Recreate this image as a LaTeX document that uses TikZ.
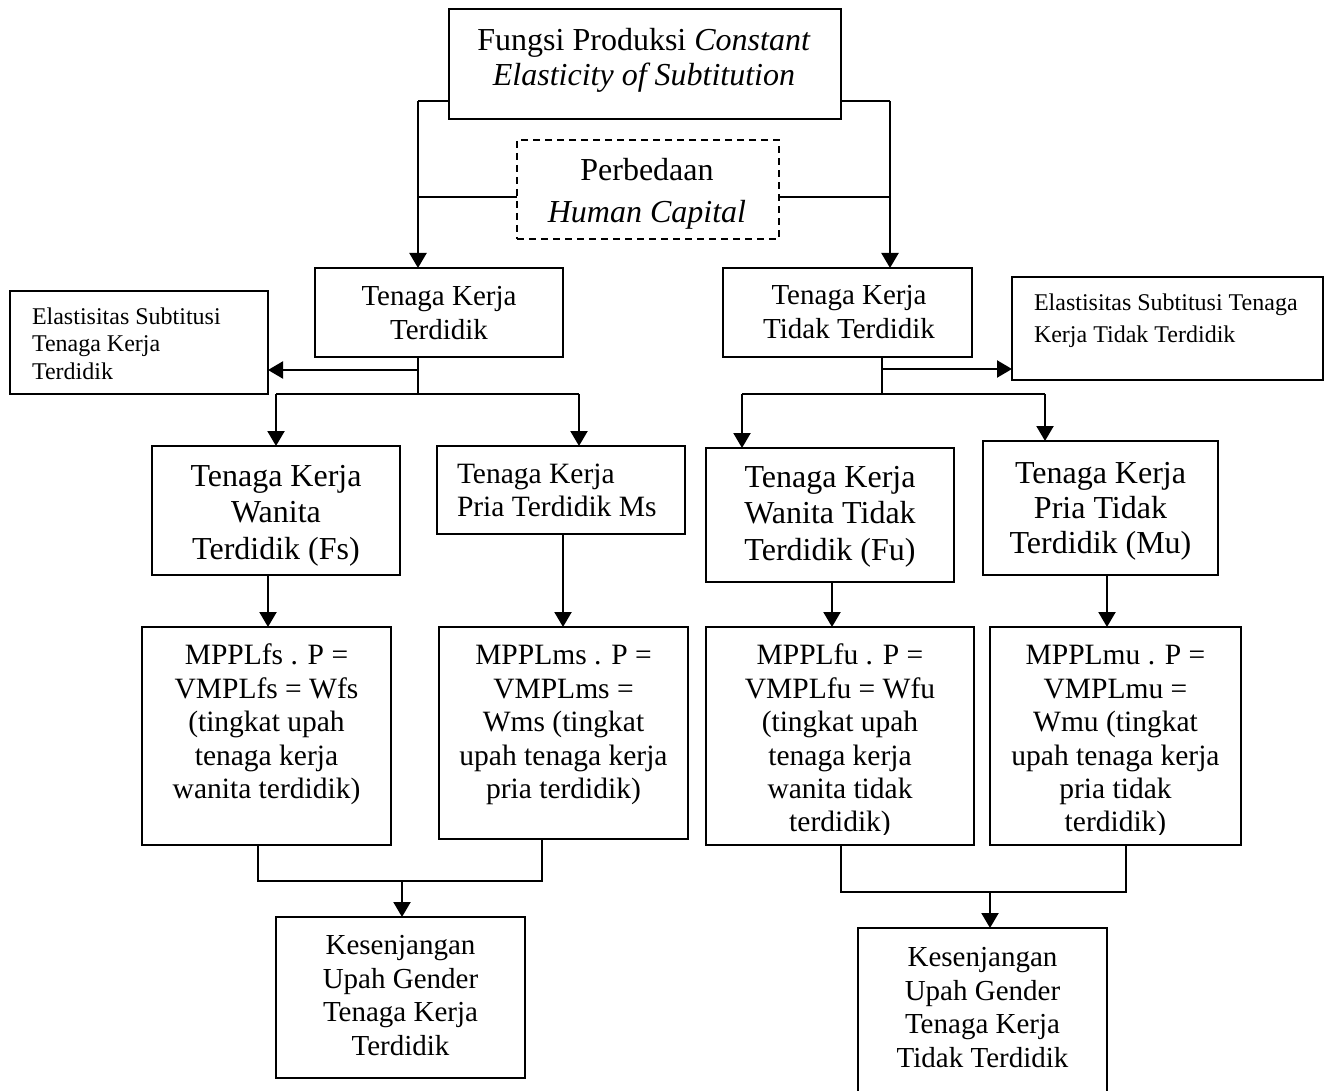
\documentclass[tikz,border=0pt]{standalone}
\usepackage{fontspec}
\setmainfont{Liberation Serif}
\usetikzlibrary{arrows.meta}
\begin{document}
\begin{tikzpicture}[x=1pt,y=-1pt,
 box/.style={draw, line width=2.4pt, inner sep=0pt, outer sep=0pt, anchor=north west},
 ln/.style={line width=2.2pt},
 arr/.style={line width=2.2pt, -{Triangle[length=15pt,width=17pt]}},
 txt/.style={inner sep=0pt, outer sep=0pt, anchor=north, align=center},
 txtl/.style={inner sep=0pt, outer sep=0pt, anchor=north west, align=left}]
\useasboundingbox (0,0) rectangle (1326,1091);
\fill[white] (0,0) rectangle (1326,1091);

% ---------- boxes ----------
\node[box, minimum width=392pt, minimum height=110pt] (top) at (449,9) {};
\node[box, dash pattern=on 7pt off 5pt, line width=2pt, minimum width=262pt, minimum height=99pt] (dash) at (517,140) {};
\node[box, minimum width=248pt, minimum height=89pt] (tkt) at (315,268) {};
\node[box, minimum width=249pt, minimum height=89pt] (tktt) at (723,268) {};
\node[box, minimum width=258pt, minimum height=103pt] (elL) at (10,291) {};
\node[box, minimum width=311pt, minimum height=103pt] (elR) at (1012,277) {};
\node[box, minimum width=248pt, minimum height=129pt] (fs) at (152,446) {};
\node[box, minimum width=248pt, minimum height=88pt] (ms) at (437,446) {};
\node[box, minimum width=248pt, minimum height=134pt] (fu) at (706,448) {};
\node[box, minimum width=235pt, minimum height=134pt] (mu) at (983,441) {};
\node[box, minimum width=249pt, minimum height=218pt] (fs4) at (142,627) {};
\node[box, minimum width=249pt, minimum height=212pt] (ms4) at (439,627) {};
\node[box, minimum width=268pt, minimum height=218pt] (fu4) at (706,627) {};
\node[box, minimum width=251pt, minimum height=218pt] (mu4) at (990,627) {};
\node[box, minimum width=249pt, minimum height=161pt] (k1) at (276,917) {};
\node[box, minimum width=249pt, minimum height=180pt] (k2) at (858,928) {};

% ---------- texts ----------
\node[txt, font=\fontsize{32}{35.5}\selectfont] (topT) at (644,25.2) {\strut Fungsi Produksi \textit{Constant}\\\textit{Elasticity of Subtitution}};
\node[txt, font=\fontsize{32}{42}\selectfont] (dashT) at (647,151.6) {\strut Perbedaan\\\textit{Human Capital}};
\node[txt, font=\fontsize{29}{34}\selectfont] (tktT) at (439,282.2) {\strut Tenaga Kerja\\Terdidik};
\node[txt, font=\fontsize{29}{34}\selectfont] (tkttT) at (849,281.2) {\strut Tenaga Kerja\\Tidak Terdidik};
\node[txtl, font=\fontsize{24}{27.5}\selectfont] (elLT) at (32,304.8) {\strut Elastisitas Subtitusi\\Tenaga Kerja\\Terdidik};
\node[txtl, font=\fontsize{24}{32}\selectfont] (elRT) at (1034,288.6) {\strut Elastisitas Subtitusi Tenaga\\Kerja Tidak Terdidik};
\node[txt, font=\fontsize{32}{36.5}\selectfont] (fsT) at (276,460.5) {\strut Tenaga Kerja\\Wanita\\Terdidik (Fs)};
\node[txtl, font=\fontsize{29.5}{33}\selectfont] (msT) at (457,459.9) {\strut Tenaga Kerja\\Pria Terdidik Ms};
\node[txt, font=\fontsize{32}{36.5}\selectfont] (fuT) at (830,461.5) {\strut Tenaga Kerja\\Wanita Tidak\\Terdidik (Fu)};
\node[txt, font=\fontsize{32}{35}\selectfont] (muT) at (1100.5,458.5) {\strut Tenaga Kerja\\Pria Tidak\\Terdidik (Mu)};

\node[txt, font=\fontsize{29.5}{33.4}\selectfont] (fs4T) at (266.5,641.6) {\strut MPPLfs . P =\\VMPLfs = Wfs\\(tingkat upah\\tenaga kerja\\wanita terdidik)};
\node[txt, font=\fontsize{29.5}{33.4}\selectfont] (ms4T) at (563.5,641.6) {\strut MPPLms . P =\\VMPLms =\\Wms (tingkat\\upah tenaga kerja\\pria terdidik)};
\begin{scope}
\clip ([yshift=11pt]fu4.south west) rectangle (fu4.north east);
\node[txt, font=\fontsize{29.5}{33.4}\selectfont] (fu4T) at (840,641.6) {\strut MPPLfu . P =\\VMPLfu = Wfu\\(tingkat upah\\tenaga kerja\\wanita tidak\\terdidik)};
\end{scope}
\begin{scope}
\clip ([yshift=11pt]mu4.south west) rectangle (mu4.north east);
\node[txt, font=\fontsize{29.5}{33.4}\selectfont] (mu4T) at (1115.5,641.6) {\strut MPPLmu . P =\\VMPLmu =\\Wmu (tingkat\\upah tenaga kerja\\pria tidak\\terdidik)};
\end{scope}

\node[txt, font=\fontsize{29}{33.5}\selectfont] (k1T) at (400.5,931.5) {\strut Kesenjangan\\Upah Gender\\Tenaga Kerja\\Terdidik};
\node[txt, font=\fontsize{29}{33.5}\selectfont] (k2T) at (982.5,943.5) {\strut Kesenjangan\\Upah Gender\\Tenaga Kerja\\Tidak Terdidik};

% ---------- junction coordinates ----------
\coordinate (jTL) at (418,101);
\coordinate (jTR) at (890,101);
\coordinate (jD) at (418,197);
\coordinate (jDR) at (890,197);
\coordinate (jL1) at (418,370);
\coordinate (aFs) at (276,394);
\coordinate (aMs) at (579,394);
\coordinate (jR1) at (882,369);
\coordinate (aFu) at (742,394);
\coordinate (aMu) at (1045,394);
\coordinate (dFs) at (268,0);
\coordinate (dMs) at (563,0);
\coordinate (dFu) at (832,0);
\coordinate (dMu) at (1107,0);
\coordinate (bL1) at (258,881);
\coordinate (bL2) at (542,881);
\coordinate (bLa) at (402,881);
\coordinate (bR1) at (841,892);
\coordinate (bR2) at (1126,892);
\coordinate (bRa) at (990,892);

% ---------- connectors ----------
\draw[ln] (top.west |- jTL) -- (jTL);
\draw[ln] (top.east |- jTR) -- (jTR);
\draw[arr] (jTL) -- (jTL |- tkt.north);
\draw[arr] (jTR) -- (jTR |- tktt.north);
\draw[ln] (dash.west |- jD) -- (jD);
\draw[ln] (dash.east |- jDR) -- (jDR);

\draw[ln] (jL1 |- tkt.south) -- (jL1 |- aFs);
\draw[arr] (jL1) -- (elL.east |- jL1);
\draw[ln] (aFs) -- (aMs);
\draw[arr] (aFs) -- (aFs |- fs.north);
\draw[arr] (aMs) -- (aMs |- ms.north);

\draw[ln] (jR1 |- tktt.south) -- (jR1 |- aFu);
\draw[arr] (jR1) -- (elR.west |- jR1);
\draw[ln] (aFu) -- (aMu);
\draw[arr] (aFu) -- (aFu |- fu.north);
\draw[arr] (aMu) -- (aMu |- mu.north);

\draw[arr] (dFs |- fs.south) -- (dFs |- fs4.north);
\draw[arr] (dMs |- ms.south) -- (dMs |- ms4.north);
\draw[arr] (dFu |- fu.south) -- (dFu |- fu4.north);
\draw[arr] (dMu |- mu.south) -- (dMu |- mu4.north);

\draw[ln] (bL1 |- fs4.south) -- (bL1) -- (bL2) -- (bL2 |- ms4.south);
\draw[arr] (bLa) -- (bLa |- k1.north);
\draw[ln] (bR1 |- fu4.south) -- (bR1) -- (bR2) -- (bR2 |- mu4.south);
\draw[arr] (bRa) -- (bRa |- k2.north);
\end{tikzpicture}
\end{document}
